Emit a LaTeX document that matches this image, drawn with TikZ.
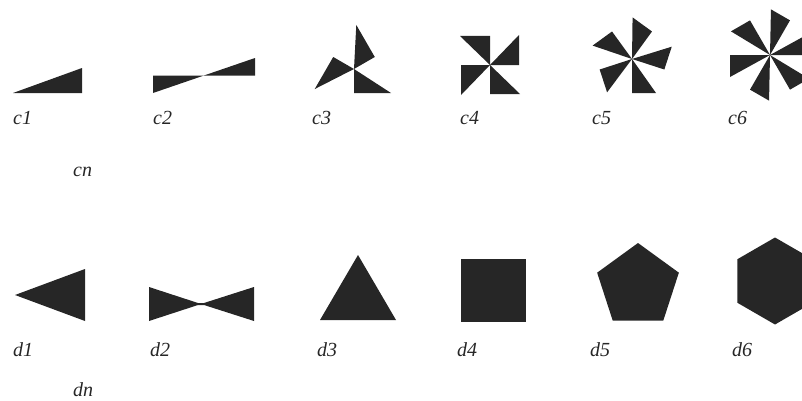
\documentclass[tikz,border=0pt]{standalone}
\usepackage{fontspec}
\setmainfont{Liberation Serif}
\begin{document}
\begin{tikzpicture}[x=1pt,y=1pt,
  shapefill/.style={fill=black!85},
  lbl/.style={anchor=base west,inner sep=0pt,text=black!85,font=\fontsize{20}{20}\selectfont\itshape}]
\useasboundingbox (0,0) rectangle (802,400);
% pinwheels: center, count n, start angle, radial length a, side length b
\newcommand{\mywheel}[6]{%
  \foreach \k in {1,...,#3}{%
    \pgfmathsetmacro{\tt}{#4+360/#3*(\k-1)}%
    \fill[shapefill] (#1,#2) -- ++(\tt:#5) -- ++(\tt+90:#6) -- cycle;}}
\mywheel{13}{307}{1}{0}{69}{25}
\mywheel{204}{324.5}{2}{0}{51}{17.5}
\mywheel{354}{331}{3}{-90}{24}{37}
\mywheel{490}{335}{4}{0}{29}{30}
\mywheel{632}{341}{5}{-90}{34}{24}
\mywheel{770}{345}{6}{0}{40}{22}
% dihedral shapes
\fill[shapefill] (15,105) -- (85,131) -- (85,79) -- cycle;
\fill[shapefill] (149,113) -- (198,97) -- (204,97) -- (254,113) -- (254,79) -- (204,95) -- (198,95) -- (149,79) -- cycle;
\fill[shapefill] (320,80) -- (396,80) -- (358,145) -- cycle;
\fill[shapefill] (461,78) rectangle (526,141);
\fill[shapefill] (638,114) ++(90:43) -- ++(-144:50.5) -- ++(-72:50.5) -- ++(0:50.5) -- ++(72:50.5) -- cycle;
\fill[shapefill] (775,119) ++(90:43.5) -- ++(-150:43.5) -- ++(-90:43.5) -- ++(-30:43.5) -- ++(30:43.5) -- ++(90:43.5) -- cycle;
% labels
\node[lbl] (c1) at (13,276) {c1};
\node[lbl] (c2) at (153,276) {c2};
\node[lbl] (c3) at (312,276) {c3};
\node[lbl] (c4) at (460,276) {c4};
\node[lbl] (c5) at (592,276) {c5};
\node[lbl] (c6) at (728,276) {c6};
\node[lbl] (cn) at (73,224) {cn};
\node[lbl] (d1) at (13,44) {d1};
\node[lbl] (d2) at (150,44) {d2};
\node[lbl] (d3) at (317,44) {d3};
\node[lbl] (d4) at (457,44) {d4};
\node[lbl] (d5) at (590,44) {d5};
\node[lbl] (d6) at (732,44) {d6};
\node[lbl] (dn) at (73,4) {dn};
\end{tikzpicture}
\end{document}
